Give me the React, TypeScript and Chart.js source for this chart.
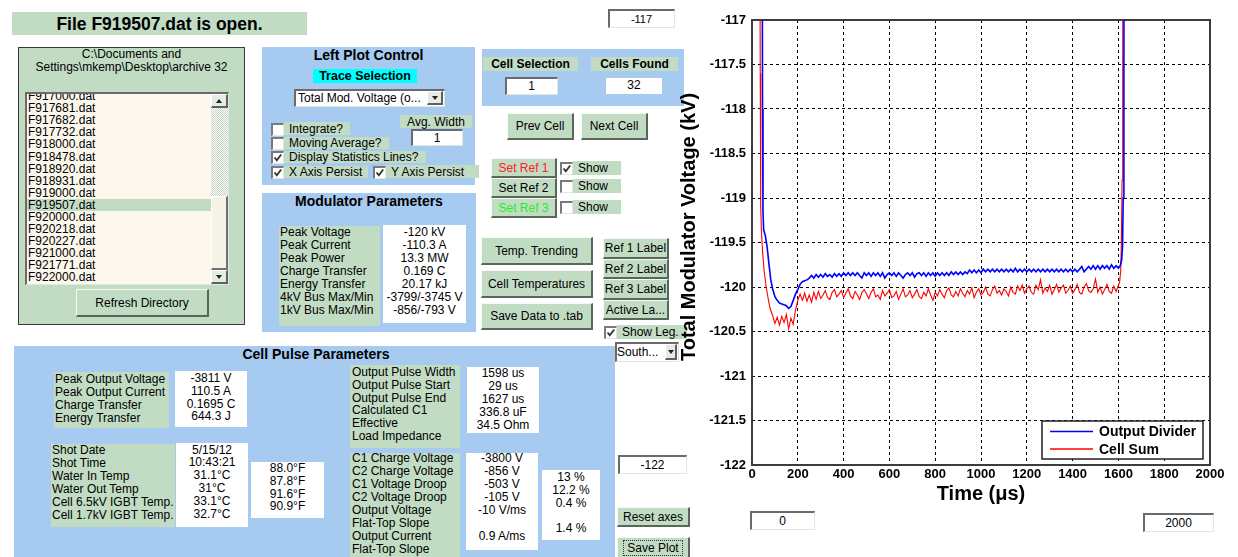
import React, { useEffect, useRef } from "react";
import { Chart, registerables } from "chart.js";

Chart.register(...registerables);

const FONT = "'Liberation Sans', Arial, Helvetica, sans-serif";
const GREEN = "#c2dcc4";
const BLUE = "#a6caf0";

// ---------- chart data ----------
const seriesLabels = ["Output Divider", "Cell Sum"];
const yAxisTitle = "Total Modulator Voltage (kV)";
const xAxisTitle = "Time (\u03bcs)";
const xRange = [0, 2000];
const yRange = [-122, -117];
const xStep = 200;
const yStep = 0.5;

const dividerHeadTimeUs = [42, 46, 48, 51, 58, 66, 74, 82];
const dividerHeadKV = [-112, -118.0, -119.15, -119.36, -119.42, -119.55, -119.74, -119.92];
const cellSumHeadTimeUs = [30, 36, 38, 41, 46, 53, 62, 72, 80];
const cellSumHeadKV = [-112, -117.6, -119.1, -119.35, -119.6, -119.82, -120.0, -120.15, -120.25];

const sampleTimeUs = [
  90, 100, 110, 120, 130, 140, 150, 160, 170, 180,
  190, 200, 210, 220, 230, 240, 250, 260, 270, 280,
  290, 300, 310, 320, 330, 340, 350, 360, 370, 380,
  390, 400, 410, 420, 430, 440, 450, 460, 470, 480,
  490, 500, 510, 520, 530, 540, 550, 560, 570, 580,
  590, 600, 610, 620, 630, 640, 650, 660, 670, 680,
  690, 700, 710, 720, 730, 740, 750, 760, 770, 780,
  790, 800, 810, 820, 830, 840, 850, 860, 870, 880,
  890, 900, 910, 920, 930, 940, 950, 960, 970, 980,
  990, 1000, 1010, 1020, 1030, 1040, 1050, 1060, 1070, 1080,
  1090, 1100, 1110, 1120, 1130, 1140, 1150, 1160, 1170, 1180,
  1190, 1200, 1210, 1220, 1230, 1240, 1250, 1260, 1270, 1280,
  1290, 1300, 1310, 1320, 1330, 1340, 1350, 1360, 1370, 1380,
  1390, 1400, 1410, 1420, 1430, 1440, 1450, 1460, 1470, 1480,
  1490, 1500, 1510, 1520, 1530, 1540, 1550, 1560, 1570, 1580,
  1590, 1600,
];

const dividerKV = [
  -120.02, -120.11, -120.15, -120.18, -120.19, -120.2, -120.21, -120.24, -120.22, -120.15,
  -120.08, -120.03, -119.97, -119.94, -119.93, -119.92, -119.9, -119.87, -119.9, -119.86,
  -119.89, -119.86, -119.89, -119.85, -119.88, -119.86, -119.89, -119.85, -119.88, -119.85,
  -119.88, -119.84, -119.87, -119.84, -119.87, -119.84, -119.87, -119.84, -119.87, -119.9,
  -119.84, -119.87, -119.84, -119.88, -119.84, -119.87, -119.84, -119.88, -119.84, -119.9,
  -119.86, -119.84, -119.87, -119.84, -119.88, -119.84, -119.87, -119.9, -119.86, -119.84,
  -119.87, -119.84, -119.89, -119.85, -119.84, -119.87, -119.84, -119.88, -119.84, -119.87,
  -119.84, -119.88, -119.84, -119.87, -119.84, -119.87, -119.84, -119.87, -119.83, -119.86,
  -119.83, -119.86, -119.83, -119.86, -119.83, -119.85, -119.81, -119.84, -119.81, -119.84,
  -119.81, -119.84, -119.8, -119.83, -119.8, -119.83, -119.8, -119.83, -119.8, -119.83,
  -119.8, -119.83, -119.8, -119.83, -119.8, -119.83, -119.79, -119.83, -119.8, -119.83,
  -119.8, -119.83, -119.8, -119.83, -119.8, -119.83, -119.8, -119.83, -119.8, -119.83,
  -119.8, -119.83, -119.8, -119.83, -119.8, -119.83, -119.8, -119.83, -119.8, -119.83,
  -119.8, -119.83, -119.8, -119.83, -119.8, -119.77, -119.83, -119.8, -119.77, -119.8,
  -119.76, -119.8, -119.76, -119.8, -119.76, -119.79, -119.76, -119.8, -119.75, -119.79,
  -119.76, -119.79,
];

const cellSumKV = [
  -120.32, -120.41, -120.34, -120.43, -120.33, -120.4, -120.31, -120.47, -120.35, -120.42,
  -120.26, -120.15, -120.08, -120.15, -120.07, -120.16, -120.09, -120.17, -120.06, -120.14,
  -120.05, -120.13, -120.09, -120.04, -120.12, -120.14, -120.06, -120.03, -120.11, -120.08,
  -120.04, -120.12, -120.07, -120.02, -120.1, -120.13, -120.05, -120.09, -120.14, -120.06,
  -120.03, -120.08, -120.13, -120.06, -120.02, -120.11, -120.09, -120.14, -120.04, -120.1,
  -120.07, -120.03, -120.12, -120.1, -120.05, -120.14, -120.08, -120.02, -120.11, -120.09,
  -120.04, -120.12, -120.08, -120.03, -120.11, -120.13, -120.06, -120.1, -120.02, -120.09,
  -120.15, -120.06, -120.1, -120.03, -120.08, -120.12, -120.04, -120.01, -120.09, -120.11,
  -120.05, -120.1, -120.02, -120.07, -120.11, -120.04, -120.08, -120.01, -120.12, -120.06,
  -120.02, -120.09, -120.06, -120.0, -120.08, -120.1, -120.03, -119.99, -120.07, -120.04,
  -120.09, -120.02, -120.05, -120.1, -120.0, -120.06, -120.08, -119.99, -120.04, -119.98,
  -120.07, -120.02, -119.99, -120.06, -120.08, -119.98, -120.03, -119.92, -120.07, -120.01,
  -120.05, -119.98, -120.08, -120.03, -119.97, -120.06, -120.01, -119.98, -120.07, -120.04,
  -119.99, -120.07, -120.03, -119.97, -120.06, -120.08, -120.0, -119.96, -120.04, -120.06,
  -120.02, -119.91, -120.06, -120.0, -120.08, -120.03, -119.97, -120.05, -120.07, -119.99,
  -120.05, -119.98,
];

const dividerTailTimeUs = [1608, 1614, 1618, 1621, 1624, 1627];
const dividerTailKV = [-119.76, -119.7, -119.55, -119.0, -117.6, -112];
const cellSumTailTimeUs = [1605, 1610, 1613, 1616, 1619, 1622];
const cellSumTailKV = [-119.95, -119.82, -119.5, -118.8, -117.4, -112];

const seriesColors = ["#0000ff", "#ff0000"];

// ---------- GUI text ----------
const fileList = [
  "F917000.dat", "F917681.dat", "F917682.dat", "F917732.dat", "F918000.dat",
  "F918478.dat", "F918920.dat", "F918931.dat", "F919000.dat", "F919507.dat",
  "F920000.dat", "F920218.dat", "F920227.dat", "F921000.dat", "F921771.dat", "F922000.dat",
];
const selectedFile = "F919507.dat";

const raised: React.CSSProperties = {
  background: GREEN,
  borderStyle: "solid",
  borderWidth: "1px 2px 2px 1px",
  borderColor: "#f4fbf4 #5a665a #5a665a #f4fbf4",
};
const sunken: React.CSSProperties = {
  background: "#fff",
  borderStyle: "solid",
  borderWidth: "2px 1px 1px 2px",
  borderColor: "#6a6a6a #dfe9df #dfe9df #6a6a6a",
};

type RP = { x: number; y: number; w: number; h: number; bg?: string; style?: React.CSSProperties; children?: React.ReactNode };
const Rect = ({ x, y, w, h, bg, style, children }: RP) => (
  <div style={{ position: "absolute", left: x, top: y, width: w, height: h, background: bg, boxSizing: "border-box", ...style }}>{children}</div>
);

type TP = { x: number; y: number; w?: number; text: string; align?: "left" | "center" | "right"; size?: number; bold?: boolean; color?: string; ls?: number };
const Tx = ({ x, y, w, text, align = "left", size = 12, bold = false, color = "#000", ls = 0 }: TP) => (
  <div
    style={{
      position: "absolute", left: x, top: Math.round(y - 8), width: w, height: 16, lineHeight: "16px",
      fontSize: size, fontWeight: bold ? 700 : 400, color, textAlign: align, whiteSpace: "nowrap", letterSpacing: ls,
    }}
  >
    {text}
  </div>
);

const Col = ({ x, y0, step, w, lines, align = "left", size = 12 }: { x: number; y0: number; step: number; w?: number; lines: string[]; align?: "left" | "center"; size?: number }) => (
  <>
    {lines.map((t, i) => (
      <Tx key={i} x={x} y={y0 + i * step} w={w} text={t} align={align} size={size} />
    ))}
  </>
);

const Btn = ({ x, y, w, h, text, color = "#000", size = 12, focus = false }: { x: number; y: number; w: number; h: number; text: string; color?: string; size?: number; focus?: boolean }) => (
  <div
    style={{
      position: "absolute", left: x, top: y, width: w, height: h, boxSizing: "border-box", ...raised,
      display: "flex", alignItems: "center", justifyContent: "center", fontSize: size, color, whiteSpace: "nowrap",
    }}
  >
    {focus ? (
      <div style={{ border: "1px dotted #333", padding: "0 3px", lineHeight: "14px" }}>{text}</div>
    ) : (
      text
    )}
  </div>
);

const Cb = ({ x, y, on }: { x: number; y: number; on?: boolean }) => (
  <div
    style={{
      position: "absolute", left: x, top: y, width: 13, height: 13, boxSizing: "border-box", background: "#fff",
      borderStyle: "solid", borderWidth: "2px 1px 1px 2px", borderColor: "#7a7a7a #e4e4e4 #e4e4e4 #7a7a7a",
    }}
  >
    {on && (
      <svg width="10" height="10" style={{ position: "absolute", left: 0, top: 0 }}>
        <polyline points="1.5,4.5 3.8,7.2 8.2,1.5" fill="none" stroke="#333" strokeWidth="1.8" />
      </svg>
    )}
  </div>
);

const Arrow = ({ up }: { up?: boolean }) => (
  <div
    style={{
      width: 0, height: 0, borderLeft: "3.5px solid transparent", borderRight: "3.5px solid transparent",
      ...(up ? { borderBottom: "4px solid #222" } : { borderTop: "4px solid #222" }),
    }}
  />
);

const ArrowBtn = ({ x, y, w, h, up }: { x: number; y: number; w: number; h: number; up?: boolean }) => (
  <div
    style={{
      position: "absolute", left: x, top: y, width: w, height: h, boxSizing: "border-box", background: "#e4ece4",
      borderStyle: "solid", borderWidth: "1px 2px 2px 1px", borderColor: "#fff #606060 #606060 #fff",
      display: "flex", alignItems: "center", justifyContent: "center",
    }}
  >
    <Arrow up={up} />
  </div>
);

// ---------- Chart ----------
function VoltageChart() {
  const ref = useRef<HTMLCanvasElement>(null);
  useEffect(() => {
    const pts = (t: number[], v: number[]) => t.map((x, i) => ({ x, y: v[i] }));
    const divider = [...pts(dividerHeadTimeUs, dividerHeadKV), ...pts(sampleTimeUs, dividerKV), ...pts(dividerTailTimeUs, dividerTailKV)];
    const cellSum = [...pts(cellSumHeadTimeUs, cellSumHeadKV), ...pts(sampleTimeUs, cellSumKV), ...pts(cellSumTailTimeUs, cellSumTailKV)];

    const framePlugin = {
      id: "frame",
      beforeDatasetsDraw(chart: any) {
        const { ctx, chartArea: a } = chart;
        ctx.save();
        ctx.strokeStyle = "#3c3c3c";
        ctx.lineWidth = 2;
        ctx.strokeRect(a.left, a.top, a.right - a.left, a.bottom - a.top);
        ctx.restore();
      },
    };
    const legendPlugin = {
      id: "boxLegend",
      afterDatasetsDraw(chart: any) {
        const { ctx, chartArea: a } = chart;
        const w = 161, h = 38;
        const left = a.right - 7 - w;
        const top = a.bottom - 6 - h;
        ctx.save();
        ctx.fillStyle = "#fff";
        ctx.fillRect(left, top, w, h);
        ctx.strokeStyle = "#222";
        ctx.lineWidth = 1.5;
        ctx.strokeRect(left, top, w, h);
        const rows = [top + 10.5, top + 28];
        chart.data.datasets.forEach((ds: any, i: number) => {
          ctx.strokeStyle = ds.borderColor;
          ctx.lineWidth = 1.5;
          ctx.beginPath();
          ctx.moveTo(left + 8, rows[i]);
          ctx.lineTo(left + 51, rows[i]);
          ctx.stroke();
          ctx.fillStyle = "#000";
          ctx.font = `bold 14px ${FONT}`;
          ctx.textBaseline = "middle";
          ctx.textAlign = "left";
          ctx.fillText(ds.label, left + 57, rows[i] + 1);
        });
        ctx.restore();
      },
    };
    const yTitlePlugin = {
      id: "yTitle",
      afterDraw(chart: any) {
        const { ctx, chartArea: a } = chart;
        ctx.save();
        ctx.translate(a.left - 63, a.top + 207);
        ctx.rotate(-Math.PI / 2);
        ctx.font = `bold 20px ${FONT}`;
        ctx.fillStyle = "#000";
        ctx.textAlign = "center";
        ctx.textBaseline = "middle";
        ctx.fillText(yAxisTitle, 0, 0);
        ctx.restore();
      },
    };

    const tickFont = { family: FONT, size: 13, weight: "bold" as const };
    const chart = new Chart(ref.current!, {
      type: "line",
      data: {
        datasets: [
          { label: seriesLabels[0], data: divider, borderColor: seriesColors[0], borderWidth: 1.6, pointRadius: 0, tension: 0 },
          { label: seriesLabels[1], data: cellSum, borderColor: seriesColors[1], borderWidth: 1.1, pointRadius: 0, tension: 0 },
        ],
      },
      options: {
        animation: false,
        responsive: false,
        events: [],
        layout: { padding: { top: 20, right: 28, left: 0, bottom: 0 } },
        plugins: { legend: { display: false }, tooltip: { enabled: false } },
        scales: {
          x: {
            type: "linear",
            min: xRange[0],
            max: xRange[1],
            afterFit: (s: any) => { s.height = 45; },
            ticks: { stepSize: xStep, padding: 2, color: "#000", font: tickFont, maxRotation: 0, autoSkip: false, callback: (v: any) => String(v) },
            grid: { color: "#000", lineWidth: 1, drawTicks: false },
            border: { display: false, dash: [3, 3] },
            title: { display: true, text: xAxisTitle, color: "#000", font: { family: FONT, size: 20, weight: "bold" }, padding: { top: 0, bottom: 4 } },
          },
          y: {
            type: "linear",
            min: yRange[0],
            max: yRange[1],
            afterFit: (s: any) => { s.width = 76; },
            ticks: { stepSize: yStep, padding: 6, color: "#000", font: tickFont, autoSkip: false, callback: (v: any) => String(v) },
            grid: { color: "#000", lineWidth: 1, drawTicks: false },
            border: { display: false, dash: [3, 3] },
          },
        },
      },
      plugins: [framePlugin, legendPlugin, yTitlePlugin],
    });
    return () => chart.destroy();
  }, []);
  return (
    <canvas
      ref={ref}
      width={562}
      height={510}
      style={{ position: "absolute", left: 676, top: 0, width: 562, height: 510, zIndex: 10, pointerEvents: "none" }}
    />
  );
}

// ---------- App ----------
export default function App() {
  return (
    <div
      style={{
        position: "absolute", left: 0, top: 0, width: 1238, height: 557, overflow: "hidden", background: "#fff",
        fontFamily: FONT, fontSize: 12, color: "#000",
      }}
    >
      {/* title bar */}
      <Rect x={12} y={12} w={295} h={23} bg={GREEN} />
      <Tx x={12} y={23.5} w={295} text="File F919507.dat is open." align="center" size={17.5} bold />

      {/* y max box */}
      <Rect x={608} y={9} w={67} h={19} style={sunken} />
      <Tx x={608} y={18.5} w={67} text="-117" align="center" size={11} />

      {/* file panel */}
      <Rect x={18} y={47} w={227} h={278} bg={GREEN} style={{ border: "1px solid #3a3a3a" }} />
      <Tx x={18} y={53.5} w={227} text="C:\Documents and" align="center" />
      <Tx x={18} y={67} w={227} text="Settings\mkemp\Desktop\archive 32" align="center" />
      <Rect x={25} y={92} w={204} h={193} style={{ ...sunken, background: "#fdf8ee", overflow: "hidden" }}>
        {fileList.map((f, i) => (
          <div
            key={f}
            style={{
              position: "absolute", left: 0, top: -3.7 + i * 12.04, width: 184, height: 12, lineHeight: "12px",
              fontSize: 12, paddingLeft: 1, boxSizing: "border-box", background: f === selectedFile ? GREEN : undefined,
            }}
          >
            {f}
          </div>
        ))}
        <div style={{ position: "absolute", left: 184, top: 14, width: 17, height: 88, background: "repeating-conic-gradient(#c4d4c4 0% 25%, #ffffff 0% 50%) 0 0/2px 2px" }} />
        <div style={{ position: "absolute", left: 184, top: 102, width: 17, height: 74, boxSizing: "border-box", background: "#f6f2e6", borderStyle: "solid", borderWidth: "1px 2px 2px 1px", borderColor: "#fff #707070 #707070 #fff" }} />
        <ArrowBtn x={184} y={0} w={17} h={14} up />
        <ArrowBtn x={184} y={176} w={17} h={14} />
      </Rect>
      <Btn x={76} y={289} w={133} h={28} text="Refresh Directory" />

      {/* Left Plot Control */}
      <Rect x={262} y={47} w={213} h={138} bg={BLUE} />
      <Tx x={262} y={55} w={213} text="Left Plot Control" align="center" size={14} bold />
      <Rect x={313} y={69} w={104} h={14} bg="#00ffff" />
      <Tx x={313} y={76} w={104} text="Trace Selection" align="center" size={12.5} bold />
      <Rect x={294} y={89} w={151} h={18} style={sunken} />
      <Tx x={298} y={98} text="Total Mod. Voltage (o..." />
      <ArrowBtn x={427} y={91} w={16} h={14} />

      <Rect x={400} y={115} w={72} h={13} bg={GREEN} />
      <Tx x={400} y={121.5} w={72} text="Avg. Width" align="center" />
      <Rect x={411} y={129} w={52} h={17} style={sunken} />
      <Tx x={411} y={138} w={52} text="1" align="center" />

      <Rect x={283} y={122} w={67} h={13} bg={GREEN} />
      <Cb x={271} y={123} />
      <Tx x={289} y={129} text="Integrate?" />
      <Rect x={283} y={137} w={106} h={12} bg={GREEN} />
      <Cb x={271} y={137} />
      <Tx x={289} y={143} text="Moving Average?" />
      <Rect x={283} y={151} w={143} h={12} bg={GREEN} />
      <Cb x={271} y={151} on />
      <Tx x={289} y={157} text="Display Statistics Lines?" />
      <Rect x={283} y={166} w={85} h={12} bg={GREEN} />
      <Cb x={271} y={166} on />
      <Tx x={289} y={172} text="X Axis Persist" />
      <Rect x={385} y={165} w={94} h={13} bg={GREEN} />
      <Cb x={373} y={166} on />
      <Tx x={391} y={172} text="Y Axis Persist" />

      {/* Modulator Parameters */}
      <Rect x={262} y={193} w={214} h={139} bg={BLUE} />
      <Tx x={262} y={201} w={214} text="Modulator Parameters" align="center" size={14} bold />
      <Rect x={279} y={226} w={101} h={100} bg={GREEN} />
      <Col x={280} y0={231.7} step={13} lines={["Peak Voltage", "Peak Current", "Peak Power", "Charge Transfer", "Energy Transfer", "4kV Bus Max/Min", "1kV Bus Max/Min"]} />
      <Rect x={383} y={225} w={83} h={98} bg="#fff" />
      <Col x={383} w={83} align="center" y0={231.7} step={13} lines={["-120 kV", "-110.3 A", "13.3 MW", "0.169 C", "20.17 kJ", "-3799/-3745 V", "-856/-793 V"]} />

      {/* Cell selection */}
      <Rect x={482} y={49} w={202} h={57} bg={BLUE} />
      <Rect x={483} y={57} w={95} h={14} bg={GREEN} />
      <Tx x={483} y={64} w={95} text="Cell Selection" align="center" bold />
      <Rect x={591} y={57} w={87} h={14} bg={GREEN} />
      <Tx x={591} y={64} w={87} text="Cells Found" align="center" bold />
      <Rect x={505} y={77} w={53} h={18} style={sunken} />
      <Tx x={505} y={86} w={53} text="1" align="center" />
      <Rect x={606} y={78} w={56} h={16} bg="#fff" />
      <Tx x={606} y={85} w={56} text="32" align="center" />

      <Btn x={507} y={113} w={67} h={27} text="Prev Cell" />
      <Btn x={581} y={113} w={67} h={27} text="Next Cell" />

      <Btn x={491} y={158} w={66} h={20} text="Set Ref 1" color="#ff2020" />
      <Btn x={491} y={178} w={66} h={20} text="Set Ref 2" />
      <Btn x={491} y={198} w={66} h={20} text="Set Ref 3" color="#22ee22" />
      <Rect x={573} y={161} w={48} h={14} bg={GREEN} />
      <Cb x={560} y={162} on />
      <Tx x={578} y={168} text="Show" />
      <Rect x={573} y={179} w={48} h={14} bg={GREEN} />
      <Cb x={560} y={180} />
      <Tx x={578} y={186} text="Show" />
      <Rect x={573} y={200} w={48} h={14} bg={GREEN} />
      <Cb x={560} y={201} />
      <Tx x={578} y={207} text="Show" />

      <Btn x={481} y={237} w={112} h={28} text="Temp. Trending" />
      <Btn x={481} y={270} w={112} h={28} text="Cell Temperatures" />
      <Btn x={481} y={303} w={112} h={27} text="Save Data to .tab" />

      <Btn x={603} y={238} w={66} h={21} text="Ref 1 Label" />
      <Btn x={603} y={259} w={66} h={20} text="Ref 2 Label" />
      <Btn x={603} y={279} w={66} h={21} text="Ref 3 Label" />
      <Btn x={603} y={300} w={66} h={20} text="Active La..." />
      <Rect x={617} y={325} w={70} h={14} bg={GREEN} />
      <Cb x={604} y={326} on />
      <Tx x={622} y={332} text="Show Leg." />

      <Rect x={615} y={342} w={64} h={20} style={sunken} />
      <Tx x={617} y={352} text="South..." />
      <ArrowBtn x={665} y={344} w={12} h={16} />

      <Rect x={618} y={455} w={69} h={19} style={sunken} />
      <Tx x={618} y={464.5} w={69} text="-122" align="center" />
      <Btn x={617} y={507} w={73} h={20} text="Reset axes" />
      <Btn x={617} y={537} w={73} h={22} text="Save Plot" focus />

      {/* x range boxes */}
      <Rect x={750} y={511} w={65} h={19} style={sunken} />
      <Tx x={750} y={520.5} w={65} text="0" align="center" />
      <Rect x={1143} y={513} w={71} h={19} style={sunken} />
      <Tx x={1143} y={522.5} w={71} text="2000" align="center" />

      {/* Cell Pulse Parameters */}
      <Rect x={14} y={346} w={601} h={220} bg={BLUE} />
      <Tx x={14} y={353.5} w={604} text="Cell Pulse Parameters" align="center" size={14} bold />

      <Rect x={54} y={372} w={115} h={56} bg={GREEN} />
      <Col x={55} y0={379} step={13} lines={["Peak Output Voltage", "Peak Output Current", "Charge Transfer", "Energy Transfer"]} />
      <Rect x={175} y={371} w={72} h={56} bg="#fff" />
      <Col x={175} w={72} align="center" y0={378} step={12.8} lines={["-3811 V", "110.5 A", "0.1695 C", "644.3 J"]} />

      <Rect x={51} y={444} w={124} h={83} bg={GREEN} />
      <Col x={52} y0={450} step={12.9} lines={["Shot Date", "Shot Time", "Water In Temp", "Water Out Temp", "Cell 6.5kV IGBT Temp.", "Cell 1.7kV IGBT Temp."]} />
      <Rect x={176} y={443} w={72} h={84} bg="#fff" />
      <Col x={176} w={72} align="center" y0={449.5} step={12.9} lines={["5/15/12", "10:43:21", "31.1\u00b0C", "31\u00b0C", "33.1\u00b0C", "32.7\u00b0C"]} />
      <Rect x={251} y={462} w={73} h={56} bg="#fff" />
      <Col x={251} w={73} align="center" y0={468} step={12.8} lines={["88.0\u00b0F", "87.8\u00b0F", "91.6\u00b0F", "90.9\u00b0F"]} />

      <Rect x={350} y={365} w={110} h={83} bg={GREEN} />
      <Col x={352} y0={371.7} step={12.9} lines={["Output Pulse Width", "Output Pulse Start", "Output Pulse End", "Calculated C1", "Effective", "Load Impedance"]} />
      <Rect x={467} y={367} w={72} h={66} bg="#fff" />
      <Col x={467} w={72} align="center" y0={373.3} step={12.9} lines={["1598 us", "29 us", "1627 us", "336.8 uF", "34.5 Ohm"]} />

      <Rect x={350} y={453} w={110} h={110} bg={GREEN} />
      <Col x={352} y0={458.3} step={13} lines={["C1 Charge Voltage", "C2 Charge Voltage", "C1 Voltage Droop", "C2 Voltage Droop", "Output Voltage", "Flat-Top Slope", "Output Current", "Flat-Top Slope"]} />
      <Rect x={466} y={453} w={72} h={97} bg="#fff" />
      <Col x={466} w={72} align="center" y0={458.3} step={13} lines={["-3800 V", "-856 V", "-503 V", "-105 V", "-10 V/ms", "", "0.9 A/ms"]} />
      <Rect x={542} y={470} w={58} h={70} bg="#fff" />
      <Col x={542} w={58} align="center" y0={476.7} step={12.9} lines={["13 %", "12.2 %", "0.4 %", "", "1.4 %"]} />

      <VoltageChart />
    </div>
  );
}
